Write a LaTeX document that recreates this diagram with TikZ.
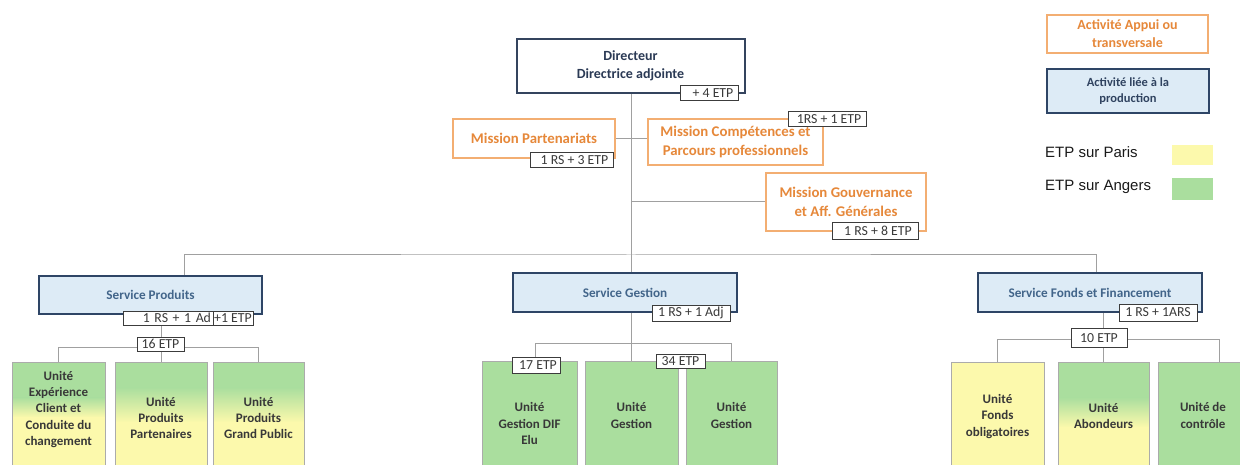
\documentclass[tikz,border=0pt]{standalone}
\usepackage{fontspec}
\setmainfont{Carlito}
\newfontfamily\arialf{Liberation Sans}
\definecolor{navyline}{HTML}{34445E}
\definecolor{navytext}{HTML}{2B3A55}
\definecolor{srvline}{HTML}{2E4566}
\definecolor{srvfill}{HTML}{DDEBF6}
\definecolor{srvtext}{HTML}{42658A}
\definecolor{orangeline}{HTML}{F3AE72}
\definecolor{orangetext}{HTML}{E6883A}
\definecolor{linegray}{HTML}{A0A0A0}
\definecolor{badgeline}{HTML}{3C3C3C}
\definecolor{badgetext}{HTML}{3A3A3A}
\definecolor{unitline}{HTML}{ABABAB}
\definecolor{unittext}{HTML}{383838}
\definecolor{grn}{RGB}{170,222,158}
\definecolor{ylw}{RGB}{252,249,172}
\tikzset{
  conn/.style={draw=linegray, line width=1pt},
  dirbox/.style={draw=navyline, line width=2pt, fill=white, align=center, inner sep=0pt,
    text=navytext, font=\bfseries\fontsize{14}{18}\selectfont},
  misbox/.style={draw=orangeline, line width=1.8pt, fill=white, align=center, inner sep=0pt,
    text=orangetext, font=\bfseries\fontsize{14.8}{19}\selectfont},
  srvbox/.style={draw=srvline, line width=2pt, fill=srvfill, align=center, inner sep=0pt,
    text=srvtext, font=\bfseries\fontsize{13.2}{15}\selectfont},
  badge/.style={draw=badgeline, line width=1pt, fill=white, inner sep=0pt,
    text=badgetext, font=\fontsize{13.8}{14}\selectfont},
  unitbox/.style={draw=unitline, line width=0.8pt, anchor=north, inner sep=0pt, minimum height=130pt},
  unitlabel/.style={align=center, inner sep=0pt, text=unittext,
    font=\bfseries\fontsize{13}{16.3}\selectfont},
  grnfill/.style={fill=grn},
  ylwfill/.style={fill=ylw},
  mixfill/.style 2 args={path picture={
    \fill[grn] (path picture bounding box.north west) rectangle ([yshift=-#1]path picture bounding box.north east);
    \shade[top color=grn, bottom color=ylw] ([yshift=-#1]path picture bounding box.north west)
      rectangle ([yshift=-#2]path picture bounding box.north east);
    \fill[ylw] ([yshift=-#2]path picture bounding box.north west) rectangle (path picture bounding box.south east);
  }},
  legendtext/.style={anchor=west, inner sep=0pt, text=black!90, font=\arialf\fontsize{15}{17}\selectfont},
}
\begin{document}
\begin{tikzpicture}[x=1pt,y=-1pt]
\useasboundingbox (0,0) rectangle (1240,465);

% ---------- direction and missions ----------
\coordinate (bus) at (631,255);
\coordinate (spin) at (184,276);
\coordinate (sfin) at (1096,273);

\draw[conn] (bus |- 0,93) -- (bus |- 0,274);
\draw[conn] (spin) |- (bus) -| (sfin);

\node[dirbox, minimum width=228pt, minimum height=54pt] (dir) at (630.5,66) {Directeur\\Directrice adjointe};
\node[badge, minimum width=58pt, minimum height=15pt] (dirb) at (709,93.5) {\hspace*{8pt}+ 4 ETP};

\node[misbox, minimum width=162pt, minimum height=39pt] (mp) at (534,138.5) {Mission Partenariats};
\node[misbox, minimum width=175pt, minimum height=46pt] (mc) at (735.5,142) {Mission Compétences et\\Parcours professionnels};
\node[misbox, minimum width=160pt, minimum height=58pt] (mg) at (846,202) {Mission Gouvernance\\et Aff. Générales};
\draw[conn] (mp.east) -- (mc.west |- mp.east);
\draw[conn] (bus |- mg.west) -- (mg.west);

\node[badge, minimum width=83pt, minimum height=15pt] (mpb) at (571.5,160.5) {\hspace*{6pt}1 RS + 3 ETP};
\node[badge, minimum width=78pt, minimum height=15pt] (mcb) at (827,119.5) {\hspace*{4pt}1RS + 1 ETP};
\node[badge, minimum width=86pt, minimum height=17pt] (mgb) at (875,231) {\hspace*{6pt}1 RS + 8 ETP};

% ---------- Service Produits ----------
\node[srvbox, minimum width=223pt, minimum height=38pt] (sp) at (150.5,295) {Service Produits};
\node[unitbox, mixfill={35pt}{55pt}, minimum width=93pt] (u1) at (58.5,362) {};
\node[unitbox, mixfill={25pt}{60pt}, minimum width=92pt] (u2) at (161,362) {};
\node[unitbox, mixfill={25pt}{60pt}, minimum width=91pt] (u3) at (258.5,362) {};
\coordinate (spbus) at (0,347);
\draw[conn] (u1.north) |- (u3.north |- spbus) -- (u3.north);
\draw[conn] (u2.north) -- (u2.north |- 0,318);
\node[badge, minimum width=90pt, minimum height=14pt, text width=86pt, align=right] (spb) at (168,318) {1 RS + 1 Ad};
\node[badge, minimum width=40pt, minimum height=14pt] (spb2) at (233,318) {+1 ETP};
\node[badge, minimum width=47pt, minimum height=14pt] (sp16) at (160.5,344) {16 ETP};
\node[unitlabel] (u1t) at (58.5,409.5) {Unité\\Expérience\\Client et\\Conduite du\\changement};
\node[unitlabel] (u2t) at (161,418) {Unité\\Produits\\Partenaires};
\node[unitlabel] (u3t) at (258.5,418) {Unité\\Produits\\Grand Public};

% ---------- Service Gestion ----------
\node[srvbox, minimum width=224pt, minimum height=39pt] (sg) at (625,292.5) {Service Gestion};
\node[unitbox, grnfill, minimum width=95pt] (g1) at (529.5,361) {};
\node[unitbox, grnfill, minimum width=93pt] (g2) at (631.5,361) {};
\node[unitbox, grnfill, minimum width=91pt] (g3) at (731.5,361) {};
\coordinate (g1top) at (535,361);
\draw[conn] (g1top) |- (g3.north |- 0,343) -- (g3.north);
\draw[conn] (g2.north) -- (g2.north |- sg.south);
\node[badge, minimum width=78pt, minimum height=16pt] (sgb) at (691,313) {1 RS + 1 Adj};
\node[badge, minimum width=48pt, minimum height=16pt] (g17) at (536,365) {\hspace*{4pt}17 ETP};
\node[badge, minimum width=49pt, minimum height=14pt] (g34) at (680.5,361.5) {34 ETP};
\node[unitlabel] (g1t) at (529.5,423.5) {Unité\\Gestion DIF\\Elu};
\node[unitlabel] (g2t) at (631.5,415.5) {Unité\\Gestion};
\node[unitlabel] (g3t) at (731.5,415.5) {Unité\\Gestion};

% ---------- Service Fonds et Financement ----------
\node[srvbox, minimum width=224pt, minimum height=39pt] (sf) at (1090,292.5) {Service Fonds et Financement};
\node[unitbox, ylwfill, minimum width=93pt] (f1) at (997.5,362) {};
\node[unitbox, mixfill={35pt}{65pt}, minimum width=91pt] (f2) at (1103.5,362) {};
\node[unitbox, grnfill, minimum width=92pt] (f3) at (1204,362) {};
\coordinate (f3top) at (1219,362);
\draw[conn] (f1.north) |- (f3top |- 0,339) -- (f3top);
\draw[conn] (f2.north) -- (f2.north |- sf.south);
\node[badge, minimum width=78pt, minimum height=17pt] (sfb) at (1158,312.5) {1 RS + 1ARS};
\node[badge, minimum width=56pt, minimum height=19pt] (f10) at (1099,338) {10 ETP};
\node[unitlabel] (f1t) at (997.5,416.5) {Unité\\Fonds\\obligatoires};
\node[unitlabel] (f2t) at (1103.5,416) {Unité\\Abondeurs};
\node[unitlabel] (f3t) at (1203,415.5) {Unité de\\contrôle};

% ---------- legend ----------
\node[misbox, minimum width=161pt, minimum height=38pt, font=\bfseries\fontsize{14}{18}\selectfont] (lg1) at (1127.5,34) {Activité Appui ou\\transversale};
\node[srvbox, minimum width=162pt, minimum height=44pt, text=navytext!80!srvtext, font=\bfseries\fontsize{12.5}{16}\selectfont] (lg2) at (1128,91) {Activité liée à la\\production};
\node[legendtext] (lg3) at (1045,152) {ETP sur Paris};
\node[legendtext] (lg4) at (1045,187) {ETP sur Angers};
\node[fill=ylw, minimum width=41pt, minimum height=20pt, inner sep=0pt] (lg5) at (1192.5,155) {};
\node[fill=grn, minimum width=41pt, minimum height=22pt, inner sep=0pt] (lg6) at (1192.5,189) {};
\end{tikzpicture}
\end{document}
